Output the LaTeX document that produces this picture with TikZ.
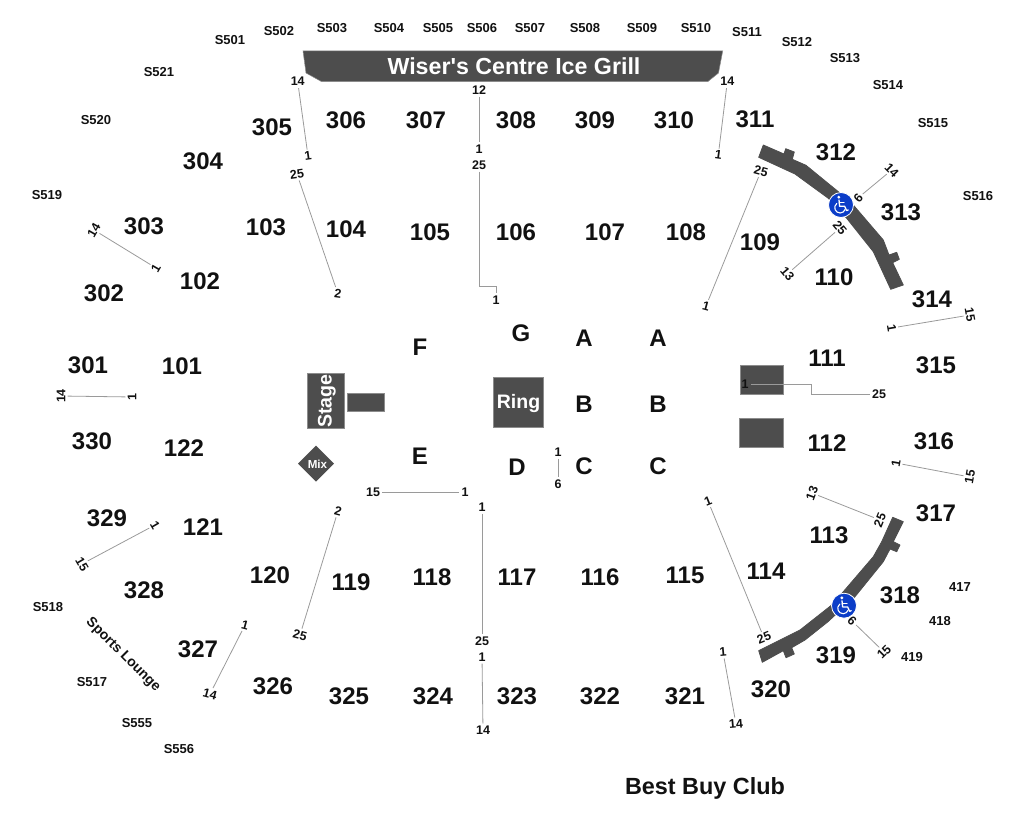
\documentclass[tikz,border=0pt]{standalone}
\usepackage{fontspec}
\setmainfont{Liberation Sans}
\newfontfamily\rawsans{Liberation Sans}
\definecolor{ink}{HTML}{111111}
\definecolor{block}{HTML}{4D4D4D}
\definecolor{edgeg}{HTML}{8C8C8C}
\definecolor{lineg}{HTML}{9A9A9A}
\definecolor{wblue}{HTML}{0B3DC8}
\tikzset{
  big/.style={font=\fontsize{24}{24}\selectfont\bfseries,text=ink,inner sep=0pt},
  letter/.style={font=\fontsize{24}{24}\selectfont\bfseries,text=ink,inner sep=0pt},
  slab/.style={font=\fontsize{13}{13}\selectfont\bfseries,text=ink,inner sep=0pt},
  seat/.style={font=\fontsize{12.5}{13}\selectfont\bfseries,text=ink,inner sep=2pt},
  seatline/.style={draw=lineg,line width=0.8pt},
  blockshape/.style={fill=block,draw=edgeg,line width=0.5pt},
  rampshape/.style={fill=block,draw=block,line width=0.8pt,line join=round},
  onblock/.style={text=white,font=\bfseries,inner sep=0pt},
  wheel/.pic={
    \fill[wblue,draw=white,line width=0.8pt] (0,0) circle (12.5pt);
    \fill[white] (-2.2,-7.8) circle (1.6pt);
    \draw[white,line width=1.3pt,line cap=round,line join=round] (-2,-5) -- (-1.4,1.2) -- (3.6,1.2) -- (5.6,5.6) -- (7.2,5);
    \draw[white,line width=1.1pt,line cap=round] (-1.8,-2.4) -- (3,-2.4);
    \draw[white,line width=1.1pt,line cap=round] (-4.2,-1.6) .. controls (-8.6,2) and (-5.4,8.2) .. (-0.8,8) .. controls (1.6,8) and (3.4,6.4) .. (4,4.6);
  }
}
\begin{document}
\begin{tikzpicture}[x=1pt,y=-1pt]
\useasboundingbox (0,0) rectangle (1026,821);
% filled shapes
\fill[blockshape] (303,51) -- (722.7,51) -- (718.5,73) -- (707.7,81.7) -- (321.7,81.7) -- (306,73) -- cycle;
\node[onblock,font=\rawsans\fontsize{23.2}{24}\selectfont\bfseries] (grill) at (514,66) {Wiser's Centre Ice Grill};
\node[blockshape,minimum width=37pt,minimum height=55pt,inner sep=0pt] (stage) at (325.8,400.8) {};
\node[onblock,font=\fontsize{19.6}{20}\selectfont\bfseries,rotate=90] (stagetext) at (326.8,401) {Stage};
\node[blockshape,minimum width=36.6pt,minimum height=18.3pt,inner sep=0pt] (stagebar) at (366,402.2) {};
\node[blockshape,minimum width=50pt,minimum height=50pt,inner sep=0pt] (ring) at (518.3,402.3) {};
\node[onblock,font=\fontsize{19.5}{20}\selectfont\bfseries] (ringtext) at (518.5,403) {Ring};
\fill[block] (316,445.7) -- (334,463.7) -- (316,481.7) -- (298,463.7) -- cycle;
\node[onblock,font=\fontsize{11.6}{12}\selectfont\bfseries] (mix) at (317.5,464) {Mix};
\node[blockshape,minimum width=43.3pt,minimum height=28.7pt,inner sep=0pt] (rightA) at (761.7,379.4) {};
\node[blockshape,minimum width=44pt,minimum height=29.3pt,inner sep=0pt] (rightB) at (761.3,432.4) {};
% ramps
\path[rampshape] (763.3,145) -- (784,154) -- (785.7,148.7) -- (794.3,152) -- (792.3,159.3) -- (806,165.3) -- (838.3,191.7) -- (853.3,205) -- (883.3,240) -- (889,255) -- (896.7,252.3) -- (899.3,259.3) -- (892.7,262.7) -- (903.3,285) -- (890.7,289.3) -- (873.3,251.7) -- (846.7,218.3) -- (828.3,198.3) -- (795,174) -- (758.7,157.3) -- cycle;
\path[rampshape] (892.7,517.3) -- (903.3,521.7) -- (893.3,541.7) -- (900,545) -- (896.7,551.7) -- (890,549) -- (883.3,561.7) -- (855,596.7) -- (828,621.7) -- (805,640) -- (791.7,647.7) -- (794.3,654) -- (786,657.7) -- (783.3,650.7) -- (762.3,662.3) -- (758.7,650.7) -- (800,630) -- (831.7,605) -- (843.3,591.7) -- (873.3,556.7) -- (881.7,541.7) -- cycle;
\pic at (841,205) {wheel};
\pic at (844,605.7) {wheel};
% section numbers
\foreach \t/\x/\y in {305/272/127,306/346/120,307/426/120,308/516/120,309/595/120,310/674/120,311/755/119,312/836/152,313/901/212,314/932/299,315/936/365,316/934/441,317/936/513,318/900/595,319/836/655,320/771/689,321/685/696,322/600/696,323/517/696,324/433/696,325/349/696,326/273/686,327/198/649,328/144/590,329/107/518,330/92/441,301/88/365,302/104/293,303/144/226,304/203/161,103/266/227,104/346/229,105/430/232,106/516/232,107/605/232,108/686/232,109/760/242,110/834/277,111/827/358,112/827/443,113/829/535,114/766/571,115/685/575,116/600/577,117/517/577,118/432/577,119/351/582,120/270/575,121/203/527,122/184/448,101/182/366,102/200/281}
  \node[big] (sec\t) at (\x,\y) {\t};
% floor letters
\foreach \n/\t/\x/\y in {f/F/420/347,g/G/521/333,a1/A/584/338,a2/A/658/338,b1/B/584/404,b2/B/658/404,c1/C/584/466,c2/C/658/466,d/D/517/467,e/E/420/456}
  \node[letter] (fl\n) at (\x,\y) {\t};
% suites
\foreach \t/\x/\y in {S501/230/40,S502/279/31,S503/332/28,S504/389/28,S505/438/28,S506/482/28,S507/530/28,S508/585/28,S509/642/28,S510/696/28,S511/747/32,S512/797/42,S513/845/58,S514/888/85,S515/933/123,S516/978/196,S521/159/72,S520/96/120,S519/47/195,S518/48/607,S517/92/682,S555/137/723,S556/179/749,417/960/587,418/940/621,419/912/657}
  \node[slab] (suite\t) at (\x,\y) {\t};
\node[font=\fontsize{14}{14}\selectfont\bfseries,text=ink,inner sep=0pt,rotate=-45] (lounge) at (123,655) {Sports Lounge};
\node[font=\fontsize{23.4}{24}\selectfont\bfseries,text=ink,inner sep=0pt] (club) at (705,788) {Best Buy Club};
% seat labels
\node[seat] (a1) at (297.7,81.7) {14};
\node[seat,rotate=8] (a2) at (308,156) {1};
\node[seat] (b1) at (727.3,81.7) {14};
\node[seat,rotate=-8] (b2) at (718.3,155) {1};
\node[seat] (c1) at (479,90) {12};
\node[seat] (c2) at (479,149) {1};
\node[seat] (d1) at (479,165) {25};
\node[seat] (d2) at (496,300) {1};
\coordinate (d3) at (479,286);
\coordinate (d4) at (496,286);
\node[seat,rotate=8] (e1) at (297,174) {25};
\node[seat,rotate=-8] (e2) at (338,294) {2};
\node[seat,rotate=60] (f1) at (94,230) {14};
\node[seat,rotate=60] (f2) at (156,268) {1};
\node[seat,rotate=90] (g1) at (61,396) {14};
\node[seat,rotate=90] (g2) at (132,397) {1};
\node[seat,rotate=-60] (h1) at (82,564) {15};
\node[seat,rotate=-60] (h2) at (155,525) {1};
\node[seat,rotate=-15] (i1) at (245,625) {1};
\node[seat,rotate=-15] (i2) at (210,694) {14};
\node[seat,rotate=-15] (j1) at (338,511) {2};
\node[seat,rotate=-15] (j2) at (300,635) {25};
\node[seat] (k1) at (373,492) {15};
\node[seat] (k2) at (465,492) {1};
\node[seat] (l1) at (482,507) {1};
\node[seat] (l2) at (482,641) {25};
\node[seat] (m1) at (482,657) {1};
\node[seat] (m2) at (483,730) {14};
\node[seat] (n1) at (558,452) {1};
\node[seat] (n2) at (558,484) {6};
\node[seat,rotate=22] (o1) at (708,501) {1};
\node[seat,rotate=22] (o2) at (764,638) {25};
\node[seat,rotate=5] (p1) at (723,652) {1};
\node[seat,rotate=5] (p2) at (736,724) {14};
\node[seat,rotate=70] (q1) at (812,493) {13};
\node[seat,rotate=68] (q2) at (880,520) {25};
\node[seat,rotate=-45] (r1) at (852,621) {6};
\node[seat,rotate=45] (r2) at (884,652) {15};
\node[seat] (t1) at (745,384) {1};
\node[seat] (t2) at (879,394) {25};
\coordinate (t3) at (811,384);
\coordinate (t4) at (811,394);
\node[seat,rotate=-80] (u1) at (891.7,328) {1};
\node[seat,rotate=-80] (u2) at (970,315) {15};
\node[seat,rotate=80] (v1) at (896,463) {1};
\node[seat,rotate=80] (v2) at (970,477) {15};
\node[seat,rotate=-15] (w1) at (761,171) {25};
\node[seat,rotate=-15] (w2) at (706,306) {1};
\node[seat,rotate=50] (x1) at (858.3,197.7) {6};
\node[seat,rotate=-45] (x2) at (891.7,170) {14};
\node[seat,rotate=-50] (y1) at (840,228) {25};
\node[seat,rotate=-50] (y2) at (787.3,274) {13};
% connectors
\draw[seatline] (a1) -- (a2);
\draw[seatline] (b1) -- (b2);
\draw[seatline] (c1) -- (c2);
\draw[seatline] (d1) -- (d3) -- (d4) -- (d2);
\draw[seatline] (e1) -- (e2);
\draw[seatline] (f1) -- (f2);
\draw[seatline] (g1) -- (g2);
\draw[seatline] (h1) -- (h2);
\draw[seatline] (i1) -- (i2);
\draw[seatline] (j1) -- (j2);
\draw[seatline] (k1) -- (k2);
\draw[seatline] (l1) -- (l2);
\draw[seatline] (m1) -- (m2);
\draw[seatline] (n1) -- (n2);
\draw[seatline] (o1) -- (o2);
\draw[seatline] (p1) -- (p2);
\draw[seatline] (q1) -- (q2);
\draw[seatline] (r1) -- (r2);
\draw[seatline] (t1) -- (t3) -- (t4) -- (t2);
\draw[seatline] (u1) -- (u2);
\draw[seatline] (v1) -- (v2);
\draw[seatline] (w1) -- (w2);
\draw[seatline] (x1) -- (x2);
\draw[seatline] (y1) -- (y2);
\end{tikzpicture}
\end{document}
